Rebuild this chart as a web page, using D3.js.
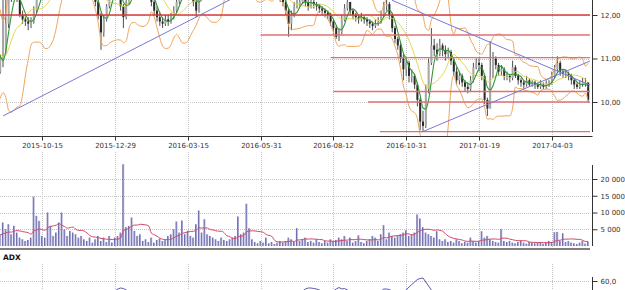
<!DOCTYPE html>
<html><head><meta charset="utf-8">
<script src="https://cdn.jsdelivr.net/npm/d3@7/dist/d3.min.js"></script>
<style>
body{margin:0;background:#fff}
svg{display:block}
text{font-family:"DejaVu Sans",Verdana,sans-serif}
</style>
</head><body>
<svg id="c" width="625" height="290"></svg>
<script>
// ---- DATA (bars = 2 trading days each; first 10 bars are history before the visible window) ----
const WARM = 10;
const tickIdx = [24, 50, 76, 102, 128, 154, 180, 206];
const tickLabels = ["2015-10-15","2015-12-29","2016-03-15","2016-05-31","2016-08-12","2016-10-31","2017-01-19","2017-04-03"];
const priceTicks = [10, 11, 12];
const volTicks = [5000, 10000, 15000, 20000];
const adxTicks = [60];

const close = [
 11.8,11.5,10.9,10.6,10.8,11.2,11.6,10.9,10.7,11.0,
 11.2,11.8,12.4,12.6,12.5,12.4,12.0,11.9,11.85,11.8,
 11.85,12.1,12.4,12.6,12.7,12.8,12.75,12.8,12.9,12.85,
 12.9,13.0,12.95,12.9,13.0,13.1,13.0,12.9,12.85,12.8,
 12.7,12.6,12.45,12.3,12.0,11.6,11.9,12.2,12.45,12.6,
 12.6,12.45,12.2,11.95,12.3,12.5,12.7,12.8,12.9,12.9,
 12.8,12.7,12.5,12.3,12.1,11.95,11.85,11.8,11.9,11.85,
 11.95,12.1,12.3,12.5,12.6,12.5,12.6,12.4,12.3,12.1,
 12.4,12.6,12.8,12.9,13.0,13.0,12.9,13.0,13.1,13.0,
 13.0,12.9,12.95,13.0,12.9,12.8,12.7,12.8,12.7,12.6,
 12.5,12.5,12.6,12.55,12.6,12.5,12.45,12.5,12.45,12.4,
 12.3,12.1,11.8,12.0,12.2,12.25,12.3,12.35,12.3,12.2,
 12.3,12.25,12.2,12.15,12.1,12.05,12.0,11.85,11.7,11.5,
 11.6,11.9,12.15,12.3,12.1,12.0,11.95,11.9,11.95,11.9,
 11.85,11.8,11.75,11.8,11.85,12.0,12.2,12.25,12.0,11.7,
 11.45,11.3,11.0,10.75,10.9,10.6,10.6,10.4,10.05,9.55,
 9.45,10.3,10.9,11.3,11.2,11.1,11.3,11.2,11.1,11.15,
 10.95,10.7,10.5,10.6,10.45,10.35,10.3,10.5,10.8,10.9,
 10.85,10.6,10.05,9.85,10.6,11.0,10.85,10.7,10.75,10.6,
 10.6,10.55,10.8,10.6,10.5,10.45,10.4,10.5,10.4,10.45,
 10.4,10.35,10.4,10.35,10.4,10.45,10.6,10.75,10.9,10.7,
 10.65,10.65,10.6,10.5,10.4,10.35,10.4,10.45,10.45,10.05
];
const high = [
 11.95,11.85,11.55,10.95,10.9,11.3,11.7,11.65,10.95,11.1,
 12.45,12.4,12.5,12.7,12.65,12.55,12.45,12.1,12.0,11.95,
 11.95,12.2,12.5,12.7,12.8,12.9,12.85,12.9,13.0,12.95,
 13.0,13.05,13.05,13.0,13.05,13.15,13.15,13.05,12.95,12.9,
 12.85,12.75,12.65,12.5,12.35,12.05,12.0,12.25,12.5,12.7,
 12.7,12.65,12.5,12.25,12.35,12.55,12.75,12.9,12.95,13.0,
 12.95,12.85,12.75,12.55,12.35,12.2,12.05,11.95,12.0,12.0,
 12.05,12.2,12.4,12.6,12.7,12.65,12.7,12.65,12.45,12.35,
 12.5,12.7,12.9,13.0,13.1,13.1,13.05,13.1,13.2,13.15,
 13.1,13.05,13.0,13.1,13.05,12.95,12.85,12.9,12.85,12.75,
 12.65,12.6,12.65,12.65,12.65,12.65,12.55,12.55,12.55,12.5,
 12.45,12.35,12.15,12.1,12.3,12.35,12.4,12.45,12.4,12.35,
 12.4,12.35,12.3,12.25,12.2,12.15,12.1,12.05,11.9,11.75,
 11.7,12.0,12.25,12.35,12.3,12.15,12.05,12.0,12.05,12.0,
 11.95,11.9,11.85,11.9,11.95,12.1,12.3,12.35,12.3,12.05,
 11.75,11.5,11.35,11.1,11.0,10.95,10.75,10.65,10.45,10.1,
 9.8,10.4,11.0,11.7,11.45,11.35,11.45,11.35,11.3,11.25,
 11.2,11.0,10.8,10.7,10.65,10.5,10.45,10.6,10.9,11.0,
 11.0,10.9,10.65,10.1,11.4,11.15,11.05,10.9,10.85,10.8,
 10.7,10.65,10.95,10.85,10.65,10.55,10.5,10.6,10.55,10.5,
 10.5,10.45,10.5,10.45,10.5,10.5,10.7,10.85,11.05,10.95,
 10.75,10.75,10.7,10.65,10.55,10.45,10.5,10.55,10.55,10.45
];
const low = [
 11.7,11.4,10.8,10.5,10.55,10.75,11.15,10.8,10.6,10.65,
 10.8,11.1,11.7,12.3,12.4,12.3,11.95,11.8,11.75,11.65,
 11.7,11.8,12.05,12.35,12.55,12.65,12.7,12.7,12.75,12.8,
 12.8,12.85,12.9,12.85,12.85,12.95,12.95,12.85,12.8,12.7,
 12.6,12.5,12.35,12.2,11.9,11.2,11.5,11.85,12.15,12.4,
 12.5,12.4,12.1,11.7,11.9,12.25,12.45,12.65,12.75,12.8,
 12.7,12.6,12.45,12.2,12.0,11.85,11.75,11.7,11.75,11.75,
 11.8,11.9,12.05,12.25,12.45,12.4,12.45,12.35,12.2,11.95,
 12.05,12.35,12.55,12.75,12.85,12.9,12.85,12.85,12.95,12.9,
 12.9,12.85,12.85,12.9,12.85,12.75,12.65,12.65,12.6,12.5,
 12.4,12.4,12.45,12.45,12.5,12.4,12.35,12.4,12.35,12.3,
 12.2,12.0,11.5,11.65,11.95,12.15,12.2,12.25,12.2,12.1,
 12.15,12.15,12.1,12.05,12.0,11.95,11.9,11.75,11.55,11.45,
 11.4,11.55,11.85,12.1,12.0,11.9,11.85,11.8,11.85,11.8,
 11.75,11.7,11.65,11.7,11.75,11.8,11.95,12.1,11.9,11.6,
 11.35,11.2,10.9,10.5,10.6,10.45,10.45,10.3,9.9,9.35,
 9.32,9.4,10.2,10.85,11.05,10.95,11.05,11.05,10.95,11.0,
 10.85,10.6,10.4,10.4,10.35,10.25,10.2,10.25,10.45,10.75,
 10.7,10.5,9.95,9.68,9.85,10.55,10.75,10.6,10.6,10.5,
 10.5,10.45,10.5,10.55,10.4,10.35,10.3,10.35,10.35,10.35,
 10.3,10.3,10.3,10.3,10.3,10.35,10.4,10.55,10.7,10.6,
 10.55,10.55,10.5,10.4,10.3,10.3,10.3,10.35,10.35,9.98
];
const volume = [
 3000,2500,4000,3500,3000,2500,3500,4000,3000,3500,
 7000,5000,6500,3500,6000,4000,2500,2000,1500,1800,
 2500,14700,9000,7500,3000,2500,10000,6000,3000,4000,
 7000,10000,5000,3000,4500,4000,3500,2500,3000,2000,
 1500,2500,1000,2000,3000,1500,2500,1200,3000,1000,
 2500,3000,4000,24400,5600,6000,8500,4500,3000,3500,
 1500,2000,1200,2500,1000,1800,2200,1500,2000,3000,
 3500,5000,7300,4000,7600,3500,4500,3000,2500,6500,
 10600,4000,8000,3500,3000,2500,2000,1500,2500,1800,
 1500,2000,2500,3000,8800,3500,4000,12600,5300,2000,
 1200,800,1500,1000,2500,800,1200,600,1000,1500,
 1000,1500,2500,2000,1200,5300,1500,2000,2500,1200,
 1500,1000,2000,1200,800,1500,1000,2000,1500,1800,
 2500,2000,3000,1500,2500,1000,1500,3200,1200,800,
 1500,2000,3000,2500,1500,3500,6200,2000,4000,3000,
 2500,3000,3500,4000,4700,3000,3500,4000,9400,8200,
 5600,4000,3500,3000,2500,4400,2000,1500,2000,1200,
 1500,1000,2000,1500,800,1200,1000,2500,1500,1000,
 1500,4400,2500,3000,2000,1500,1200,1000,5000,1500,
 1200,1500,1000,800,1200,1500,1000,700,1200,1000,
 800,1000,1200,700,1000,1500,1200,4100,4200,1500,
 3800,1200,1500,1000,800,600,1000,1500,700,1200
];
const adx = [
 30,31,32,33,34,35,36,37,38,38,
 38,39,40,41,42,42,41,40,38,36,
 35,36,37,39,41,43,45,46,47,47,
 46,45,43,41,39,37,35,33,32,33,
 35,37,40,43,45,47,48,49,49,49.5,
 50,52,53,52.5,51,49,47,45,43,41,
 39,37,36,36,37,38,39,40,40,39,
 38,37,36,35,34,34,35,36,38,40,
 42,44,45,46,46,45,44,43,42,41,
 40,38,36,34,32,31,30,30,31,33,
 35,37,39,41,43,44,45,46,47,47,
 46,45,46,47,48,49,49.5,50,52,53,
 53,52.5,52,51,49,47,46,47,50,52,
 53.5,52,52.5,51,49,47,45,43,42,41,
 41,42,44,46,48,50,52,52,51.5,50,
 48,46,47,49,51,54,56.5,59,61.5,62.5,
 63,59,55,51,48,45,42,40,38,36,
 35,34,34,35,36,37,38,38,37,36,
 35,34,33,33,34,35,36,36,35,34,
 33,32,31,30,29,28,27,26,25,25,
 24,24,23,23,22,22,23,24,25,25,
 24,23,22,21,21,20,20,21,22,22
];
// horizontal support / resistance levels: price and first bar
const levelPrice = [12.00, 11.54, 11.02, 10.24, 10.00, 9.32];
const levelStart = [9, 102, 127, 128, 140.4, 144.6];
// trend lines: [bar0, price0, bar1, price1]
const trendA = [10, 9.68, 95, 12.48];
const trendB = [148.9, 12.34, 219.6, 10.39];
const trendC = [159.6, 9.31, 219.6, 10.94];

// ---- CHART ----
const svg = d3.select("#c");
const N = close.length;
const PR = 590; // right edge of plot area
const x = d3.scaleLinear().domain([WARM, N - 1]).range([3, 588.2]);
const y = d3.scaleLinear().domain([10, 12]).range([102, 15]);
const yv = d3.scaleLinear().domain([0, 20000]).range([246, 179]);
const ya = d3.scaleLinear().domain([50, 60]).range([291, 281]);

const defs = svg.append("defs");
defs.append("clipPath").attr("id","cp").append("rect").attr("x",0).attr("y",0).attr("width",PR).attr("height",136);
defs.append("clipPath").attr("id","cv").append("rect").attr("x",0).attr("y",160).attr("width",PR).attr("height",87);
defs.append("clipPath").attr("id","ca").append("rect").attr("x",0).attr("y",262).attr("width",PR).attr("height",30);

const gridCol = "#c4c4c4";
const axCol = "#333";
const fs = 7;
const fmtP = v => v.toFixed(2).replace(".", ",");
const fmtV = v => d3.format(",")(v).replace(/,/g, " ");
const fmtA = v => v.toFixed(1).replace(".", ",");

// vertical grid lines
const vgrid = (y0, y1) => svg.append("g").selectAll("line").data(tickIdx).join("line")
  .attr("x1", d => Math.round(x(d)) + 0.5).attr("x2", d => Math.round(x(d)) + 0.5)
  .attr("y1", y0).attr("y2", y1)
  .attr("stroke", gridCol).attr("stroke-dasharray", "1,1");
vgrid(0, 136); vgrid(152, 247); vgrid(264, 290);

// horizontal grid lines
const hgrid = (vals, sc) => svg.append("g").selectAll("line").data(vals).join("line")
  .attr("x1", 0).attr("x2", PR)
  .attr("y1", d => Math.round(sc(d)) + 0.5).attr("y2", d => Math.round(sc(d)) + 0.5)
  .attr("stroke", gridCol).attr("stroke-dasharray", "1,1");
hgrid(priceTicks, y); hgrid(volTicks, yv); hgrid(adxTicks, ya);

// ---- price panel ----
const gp = svg.append("g").attr("clip-path", "url(#cp)");
const idx = d3.range(N);
const sma = (arr, n) => arr.map((_, i) => i < n - 1 ? null : d3.mean(arr.slice(i - n + 1, i + 1)));
const sd = (arr, n) => arr.map((_, i) => i < n - 1 ? null : d3.deviation(arr.slice(i - n + 1, i + 1)));
const BW = 10, BK = 2.5;
const mid = sma(close, BW), dev = sd(close, BW), fast = sma(close, 4);
const upper = mid.map((m, i) => m == null ? null : m + BK * dev[i]);
const lower = mid.map((m, i) => m == null ? null : m - BK * dev[i]);

const line = (arr, sc) => d3.line().defined(i => arr[i] != null).x(i => x(i)).y(i => sc(arr[i])).curve(d3.curveMonotoneX);

// candles
const cg = gp.append("g");
idx.filter(i => i > 0).forEach(i => {
  const o = close[i - 1], c = close[i];
  cg.append("line").attr("x1", x(i)).attr("x2", x(i)).attr("y1", y(high[i])).attr("y2", y(low[i]))
    .attr("stroke", "#3a3a3a").attr("stroke-width", 0.9);
  const top = y(Math.max(o, c)), bot = y(Math.min(o, c));
  cg.append("rect").attr("x", x(i) - 1).attr("width", 2).attr("y", top).attr("height", Math.max(1, bot - top))
    .attr("fill", c >= o ? "#a8a8a8" : "#2a2a2a");
});

gp.append("path").attr("d", line(upper, y)(idx)).attr("fill", "none").attr("stroke", "#f0a458").attr("stroke-width", 1);
gp.append("path").attr("d", line(lower, y)(idx)).attr("fill", "none").attr("stroke", "#f0a458").attr("stroke-width", 1);
gp.append("path").attr("d", line(mid, y)(idx)).attr("fill", "none").attr("stroke", "#e2d84a").attr("stroke-width", 1);
gp.append("path").attr("d", line(fast, y)(idx)).attr("fill", "none").attr("stroke", "#2f9a34").attr("stroke-width", 1.1);

// support / resistance
gp.append("g").selectAll("line").data(levelPrice).join("line")
  .attr("x1", (d, i) => x(levelStart[i])).attr("x2", PR)
  .attr("y1", d => y(d)).attr("y2", d => y(d))
  .attr("stroke", (d, i) => i === 0 ? "#d83c3c" : "#e27070").attr("stroke-width", 1.4);

// trend lines
[trendA, trendB, trendC].forEach(t => {
  gp.append("line").attr("x1", x(t[0])).attr("y1", y(t[1])).attr("x2", x(t[2])).attr("y2", y(t[3]))
    .attr("stroke", "#7b78d8").attr("stroke-width", 1);
});

// price axis (right)
svg.append("line").attr("x1", 592.5).attr("x2", 592.5).attr("y1", 0).attr("y2", 132).attr("stroke", axCol);
const pa = svg.append("g").attr("transform", "translate(592.5,0)")
  .call(d3.axisRight(y).tickValues(priceTicks).tickSize(5).tickPadding(3).tickFormat(fmtP));
pa.select(".domain").remove();
pa.selectAll("line").attr("stroke", axCol);
pa.selectAll("text").attr("font-size", fs).attr("fill", axCol).attr("font-family", "DejaVu Sans");

// date axis
svg.append("line").attr("x1", 0).attr("x2", 592.5).attr("y1", 136.5).attr("y2", 136.5).attr("stroke", axCol);
const da = svg.append("g").attr("transform", "translate(0,136.5)")
  .call(d3.axisBottom(x).tickValues(tickIdx).tickSize(4).tickPadding(3).tickFormat((d, i) => tickLabels[i]));
da.select(".domain").remove();
da.selectAll(".tick").attr("transform", d => `translate(${Math.round(x(d)) + 0.5},0)`);
da.selectAll("line").attr("stroke", axCol);
da.selectAll("text").attr("font-size", fs).attr("fill", axCol).attr("font-family", "DejaVu Sans");

// ---- volume panel ----
const gv = svg.append("g").attr("clip-path", "url(#cv)");
gv.append("g").selectAll("rect").data(idx).join("rect")
  .attr("x", i => x(i) - 0.6).attr("width", 1.4)
  .attr("y", i => yv(volume[i])).attr("height", i => yv(0) - yv(volume[i]))
  .attr("fill", "#a9a9dc");
gv.append("g").selectAll("line").data(idx).join("line")
  .attr("x1", i => x(i) - 0.6).attr("x2", i => x(i) - 0.6)
  .attr("y1", i => yv(volume[i])).attr("y2", yv(0))
  .attr("stroke", "#3c3c88").attr("stroke-width", 0.7);
const vma = sma(volume, 10);
gv.append("path").attr("d", line(vma, yv)(idx)).attr("fill", "none").attr("stroke", "#d4486a").attr("stroke-width", 1);

svg.append("line").attr("x1", 0).attr("x2", 590).attr("y1", 249).attr("y2", 249).attr("stroke", "#555").attr("stroke-width", 1.5);
svg.append("line").attr("x1", 592.5).attr("x2", 592.5).attr("y1", 165).attr("y2", 246).attr("stroke", axCol);
const va = svg.append("g").attr("transform", "translate(592.5,0)")
  .call(d3.axisRight(yv).tickValues(volTicks).tickSize(5).tickPadding(3).tickFormat(fmtV));
va.select(".domain").remove();
va.selectAll("line").attr("stroke", axCol);
va.selectAll("text").attr("font-size", fs).attr("fill", axCol).attr("font-family", "DejaVu Sans");

// ---- ADX panel ----
svg.append("text").attr("x", 3).attr("y", 260).attr("font-size", 7.5).attr("font-weight", "bold").attr("fill", "#111").text("ADX");
const ga = svg.append("g").attr("clip-path", "url(#ca)");
ga.append("path").attr("d", d3.line().x(i => x(i)).y(i => ya(adx[i]))(idx))
  .attr("fill", "none").attr("stroke", "#5a58b0").attr("stroke-width", 1);
svg.append("line").attr("x1", 592.5).attr("x2", 592.5).attr("y1", 277).attr("y2", 290).attr("stroke", axCol);
const aa = svg.append("g").attr("transform", "translate(592.5,0)")
  .call(d3.axisRight(ya).tickValues(adxTicks).tickSize(5).tickPadding(3).tickFormat(fmtA));
aa.select(".domain").remove();
aa.selectAll("line").attr("stroke", axCol);
aa.selectAll("text").attr("font-size", fs).attr("fill", axCol).attr("font-family", "DejaVu Sans");
</script>
</body></html>
